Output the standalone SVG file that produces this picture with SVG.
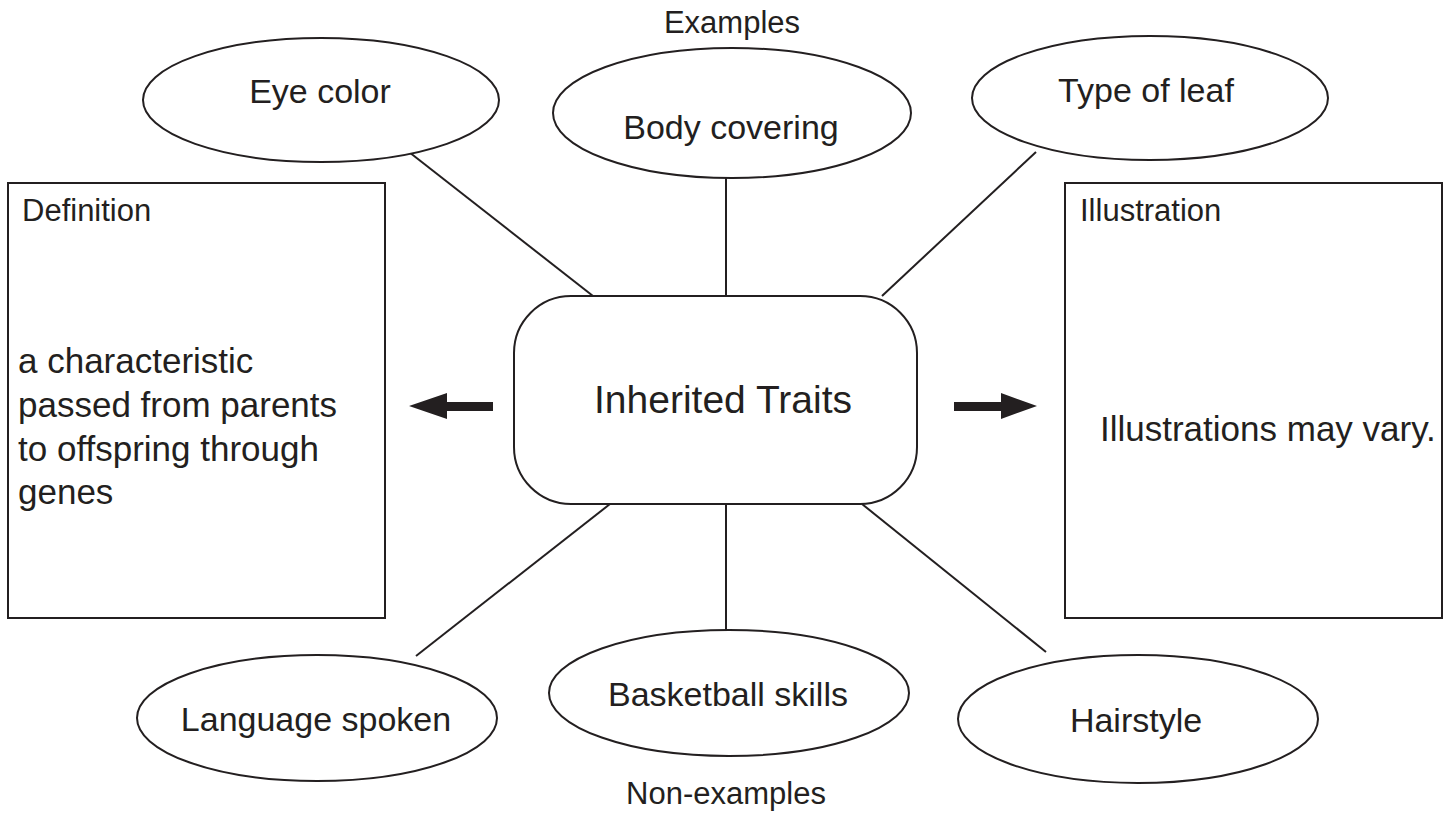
<svg xmlns="http://www.w3.org/2000/svg" width="1449" height="813" viewBox="0 0 1449 813">
  <style>
    .shape { fill: #ffffff; stroke: #231f20; stroke-width: 2; }
    .link { stroke: #231f20; stroke-width: 2; fill: none; }
    .arrow { fill: #231f20; stroke: none; }
    text { font-family: "Liberation Sans", Arial, Helvetica, sans-serif; fill: #231f20; }
    .oval { font-size: 34px; text-anchor: middle; }
    .title { font-size: 39px; text-anchor: middle; }
    .head { font-size: 31px; }
    .body { font-size: 35px; }
    .caption { font-size: 31px; text-anchor: middle; }
  </style>
  <rect width="1449" height="813" fill="#ffffff"/>

  <!-- spokes between the centre box and the surrounding ovals -->
  <g id="connectors">
    <line class="link" x1="409" y1="152" x2="593" y2="296"/>
    <line class="link" x1="726" y1="178" x2="726" y2="296"/>
    <line class="link" x1="1036" y1="152" x2="882" y2="296"/>
    <line class="link" x1="610" y1="504" x2="416" y2="656"/>
    <line class="link" x1="726" y1="504" x2="726" y2="630"/>
    <line class="link" x1="862" y1="504" x2="1046" y2="652"/>
    <!-- block arrows towards the side panels -->
    <path class="arrow" d="M493,402 L447,402 L447,393 L409,406 L447,419 L447,411 L493,411 Z"/>
    <path class="arrow" d="M954,402 L1001,402 L1001,393 L1037,406 L1001,419 L1001,411 L954,411 Z"/>
  </g>

  <g id="label-examples">
    <text class="caption" x="732" y="33">Examples</text>
  </g>
  <g id="label-nonexamples">
    <text class="caption" x="726" y="804">Non-examples</text>
  </g>

  <g id="node-eye-color">
    <ellipse class="shape" cx="321" cy="100" rx="178" ry="62"/>
    <text class="oval" x="320" y="103">Eye color</text>
  </g>
  <g id="node-body-covering">
    <ellipse class="shape" cx="732" cy="113" rx="179" ry="65"/>
    <text class="oval" x="731" y="139">Body covering</text>
  </g>
  <g id="node-type-of-leaf">
    <ellipse class="shape" cx="1150" cy="98" rx="178" ry="62"/>
    <text class="oval" x="1146" y="102">Type of leaf</text>
  </g>
  <g id="node-language-spoken">
    <ellipse class="shape" cx="317" cy="718" rx="180" ry="63"/>
    <text class="oval" x="316" y="731">Language spoken</text>
  </g>
  <g id="node-basketball-skills">
    <ellipse class="shape" cx="729" cy="693" rx="180" ry="63"/>
    <text class="oval" x="728" y="706">Basketball skills</text>
  </g>
  <g id="node-hairstyle">
    <ellipse class="shape" cx="1138" cy="719" rx="180" ry="64"/>
    <text class="oval" x="1136" y="732">Hairstyle</text>
  </g>

  <g id="node-inherited-traits">
    <rect class="shape" x="514" y="296" width="403" height="208" rx="57" ry="57"/>
    <text class="title" x="723" y="413">Inherited Traits</text>
  </g>

  <g id="node-definition">
    <rect class="shape" x="8" y="183" width="377" height="435"/>
    <text class="head" x="22" y="221">Definition</text>
    <text class="body" x="18" y="373">a characteristic</text>
    <text class="body" x="18" y="417">passed from parents</text>
    <text class="body" x="18" y="461">to offspring through</text>
    <text class="body" x="18" y="504">genes</text>
  </g>

  <g id="node-illustration">
    <rect class="shape" x="1065" y="183" width="377" height="435"/>
    <text class="head" x="1080" y="221">Illustration</text>
    <text class="body" x="1100" y="441">Illustrations may vary.</text>
  </g>
</svg>
